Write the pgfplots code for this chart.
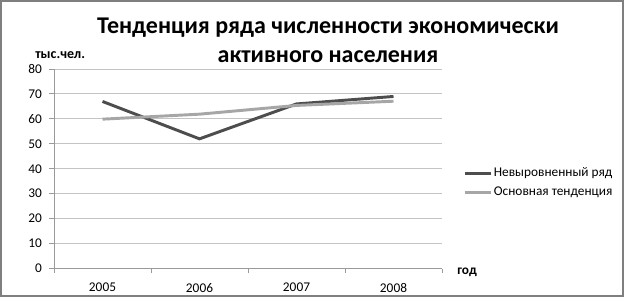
\documentclass[border=0pt]{standalone}
\usepackage{pgfplots}
\pgfplotsset{compat=1.18}
\usepackage{fontspec}
\setmainfont{Carlito}
\definecolor{darkln}{HTML}{4D4D4D}
\definecolor{lightln}{HTML}{A6A6A6}
\definecolor{gridc}{HTML}{C4C4C4}
\definecolor{axisc}{HTML}{9A9A9A}
\definecolor{framec}{HTML}{7F7F7F}
\begin{document}
\begin{tikzpicture}[x=0.75pt,y=0.75pt]
\useasboundingbox (0,0) rectangle (625,298);
\fill[white] (0,0) rectangle (625,298);
\draw[framec,line width=1.2pt] (0.8,2) rectangle (622.8,297.2);
\node[font=\fontsize{18}{22}\selectfont\bfseries,anchor=base,inner sep=0] at (328,265) {Тенденция ряда численности экономически};
\node[font=\fontsize{18}{22}\selectfont\bfseries,anchor=base,inner sep=0] at (328,236) {активного населения};
\node[font=\fontsize{10.5}{12}\selectfont\bfseries,anchor=west,inner sep=0] at (35,243) {тыс.чел.};
\node[font=\fontsize{10}{12}\selectfont\bfseries,anchor=west,inner sep=0] at (457,26) {год};
\begin{axis}[
  at={(40.5pt,22.125pt)}, anchor=south west,
  scale only axis, width=291pt, height=149.6pt,
  xmin=-0.5, xmax=3.5, ymin=0, ymax=80,
  xtick={-0.5,0.5,1.5,2.5,3.5},
  xticklabels={2005,2006,2007,2008},
  x tick label as interval,
  ytick={0,10,...,80},
  axis x line*=bottom, axis y line*=left,
  axis line style={axisc,line width=0.75pt},
  tick style={axisc,line width=0.75pt},
  tick align=outside, major tick length=3.5pt,
  ymajorgrids, grid style={gridc,line width=0.75pt},
  ticklabel style={font=\fontsize{10}{12}\selectfont},
  /pgf/number format/assume math mode=true,
  yticklabel style={xshift=-2pt},
  xticklabel style={yshift=-4pt},
  legend style={at={(1.054,0.430)},anchor=west,draw=none,fill=none,
    font=\fontsize{10}{12}\selectfont,row sep=4pt,inner sep=0pt,
    nodes={inner xsep=0.8pt,inner ysep=1pt},
    legend cell align=left},
  legend image code/.code={\draw[#1] (0pt,0pt) -- (20pt,0pt);},
  clip=false,
]
\addplot[darkln,line width=2.2pt] coordinates {(0,67) (1,52) (2,66) (3,69)};
\addlegendentry{Невыровненный ряд}
\addplot[lightln,line width=2.2pt] coordinates {(0,59.9) (1,61.9) (2,65.4) (3,67.1)};
\addlegendentry{Основная тенденция}
\end{axis}
\end{tikzpicture}
\end{document}
